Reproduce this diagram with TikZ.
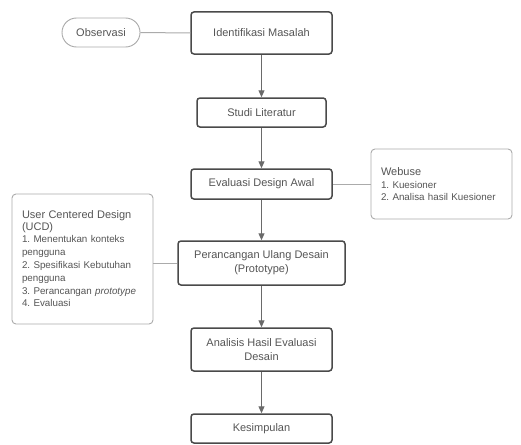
\documentclass[tikz,border=0pt]{standalone}
\usepackage{fontspec}
\setmainfont{Liberation Sans}
\usetikzlibrary{arrows.meta,shapes.misc}
\definecolor{txt}{HTML}{555555}
\definecolor{mainborder}{HTML}{4A4A4A}
\definecolor{sideborder}{HTML}{ABABAB}
\definecolor{conn}{HTML}{6A6A6A}
\frenchspacing
\begin{document}
\begin{tikzpicture}[x=1pt,y=-1pt,
  mainbox/.style={draw=mainborder,line width=1.5pt,rounded corners=3pt,fill=white,
    text=txt,font=\fontsize{11}{14}\selectfont,align=center,inner sep=0pt},
  sidebox/.style={draw=sideborder,line width=0.9pt,rounded corners=4pt,fill=white,
    text=txt,align=left,inner sep=0pt,minimum width=141pt},
  pill/.style={draw=sideborder,line width=0.9pt,rounded rectangle,fill=white,
    text=txt,font=\fontsize{11}{14}\selectfont,inner sep=0pt,minimum width=78pt,minimum height=29pt},
  flow/.style={draw=conn,line width=1pt,-{Triangle[length=7pt,width=6pt]}},
  link/.style={draw=sideborder,line width=1pt}]
\useasboundingbox (0,0) rectangle (521,444);
\fill[white] (0,0) rectangle (521,444);

\node[mainbox,minimum width=141pt,minimum height=42pt] (idm) at (261.5,33) {Identifikasi Masalah};
\node[mainbox,minimum width=129pt,minimum height=29pt] (studi) at (261.5,112.5) {Studi Literatur};
\node[mainbox,minimum width=141pt,minimum height=30pt] (eval) at (261.5,184) {Evaluasi Design Awal};
\node[mainbox,minimum width=167pt,minimum height=44pt] (peran) at (261.5,263) {Perancangan Ulang Desain\\(Prototype)};
\node[mainbox,minimum width=141pt,minimum height=43pt] (anal) at (261.5,349.5) {Analisis Hasil Evaluasi\\Desain};
\node[mainbox,minimum width=141pt,minimum height=29pt] (kes) at (261.5,428.5) {Kesimpulan};

\node[pill] (obs) at (101,32.5) {Observasi};

\node[sidebox,minimum height=70pt,text width=121pt,inner xsep=10pt] (web) at (441.5,184)
  {{\fontsize{11}{14}\selectfont Webuse}\\[-1pt]
   {\fontsize{9.8}{14}\selectfont 1. Kuesioner\\2. Analisa hasil Kuesioner}};

\node[sidebox,minimum height=130pt,text width=121pt,inner xsep=10pt] (ucd) at (82.5,259)
  {{\fontsize{11}{16}\selectfont User Centered Design\\(UCD)}\\[-2pt]
   {\fontsize{9.8}{13.2}\selectfont 1. Menentukan konteks\\pengguna\\2. Spesifikasi Kebutuhan\\pengguna\\3. Perancangan \textit{prototype}\\4. Evaluasi}};

\draw[link] (obs.east) -- (idm.west);
\draw[link] (eval.east) -- (web.west);
\draw[link] (ucd.east |- peran.west) -- (peran.west);

\draw[flow] (idm.south) -- (studi.north);
\draw[flow] (studi.south) -- (eval.north);
\draw[flow] (eval.south) -- (peran.north);
\draw[flow] (peran.south) -- (anal.north);
\draw[flow] (anal.south) -- (kes.north);
\end{tikzpicture}
\end{document}
